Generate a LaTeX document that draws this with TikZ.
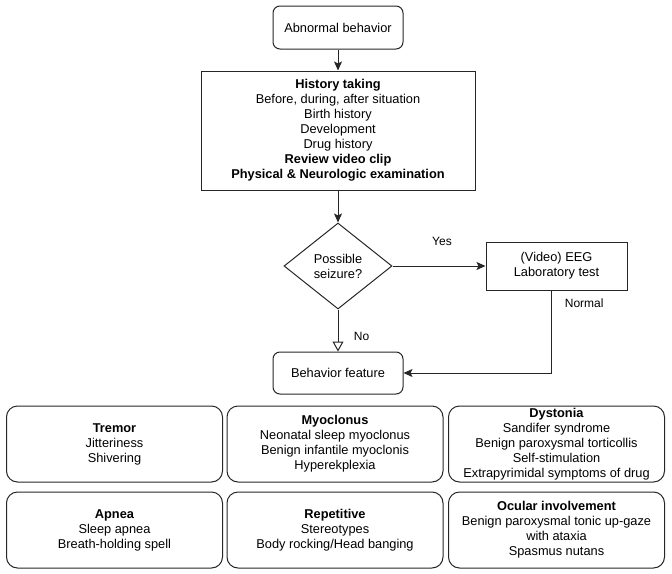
\documentclass[tikz,border=0pt]{standalone}
\usepackage{fontspec}
\setmainfont{Liberation Sans}
\usetikzlibrary{arrows.meta,shapes.geometric}
\begin{document}
\begin{tikzpicture}[x=1pt,y=-1pt,
  every node/.style={font=\fontsize{12.8}{15}\selectfont, text=black, align=center},
  box/.style={draw=black!85, line width=1pt, inner sep=0pt},
  rbox/.style={box, rounded corners=7pt},
  cat/.style={box, rounded corners=11pt, minimum width=216pt, minimum height=76pt},
  conn/.style={draw=black!85, line width=1pt, -{Stealth[length=9pt,width=8pt,inset=2pt]}},
  lbl/.style={font=\fontsize{12}{14}\selectfont}
]
\useasboundingbox (0,0) rectangle (672,573);
\node[rbox, minimum width=130pt, minimum height=43pt] (ab) at (338,27.5) {Abnormal behavior};
\node[box, minimum width=274pt, minimum height=119pt] (hist) at (338,130.5)
  {\textbf{History taking}\\Before, during, after situation\\Birth history\\Development\\Drug history\\\textbf{Review video clip}\\\textbf{Physical \& Neurologic examination}};
\node[box, diamond, aspect=1.25, minimum width=108pt, minimum height=86pt] (dec) at (338,266) {Possible\\seizure?};
\node[box, minimum width=141pt, minimum height=48pt] (eeg) at (556.5,266) {(Video) EEG\\Laboratory test};
\node[rbox, minimum width=130pt, minimum height=42pt] (bf) at (338,373) {Behavior feature};

\node[cat] (tremor) at (114.5,444) {\textbf{Tremor}\\Jitteriness\\Shivering};
\node[cat] (myo) at (335,444) {\textbf{Myoclonus}\\Neonatal sleep myoclonus\\Benign infantile myoclonis\\Hyperekplexia};
\node[cat] (dys) at (556.5,444) {\textbf{Dystonia}\\Sandifer syndrome\\Benign paroxysmal torticollis\\Self-stimulation\\Extrapyrimidal symptoms of drug};
\node[cat] (apnea) at (114.5,530) {\textbf{Apnea}\\Sleep apnea\\Breath-holding spell};
\node[cat] (rep) at (335,530) {\textbf{Repetitive}\\Stereotypes\\Body rocking/Head banging};
\node[cat] (ocu) at (556.5,530) {\textbf{Ocular involvement}\\Benign paroxysmal tonic up-gaze\\with ataxia\\Spasmus nutans};

\draw[conn] (ab) -- (hist);
\draw[conn] (hist) -- (dec);
\draw[conn] (dec.east) -- node[lbl, above=17pt, xshift=3pt] {Yes} (eeg.west);
\draw[draw=black!85, line width=1pt, -{Triangle[open,length=10pt,width=11pt]}] (dec.south) -- node[lbl, right=12pt, pos=0.65] {No} (bf.north);
\draw[conn] ([xshift=-5.5pt]eeg.south) |- node[lbl, pos=0.08, right=10pt] {Normal} (bf.east);
\end{tikzpicture}
\end{document}
